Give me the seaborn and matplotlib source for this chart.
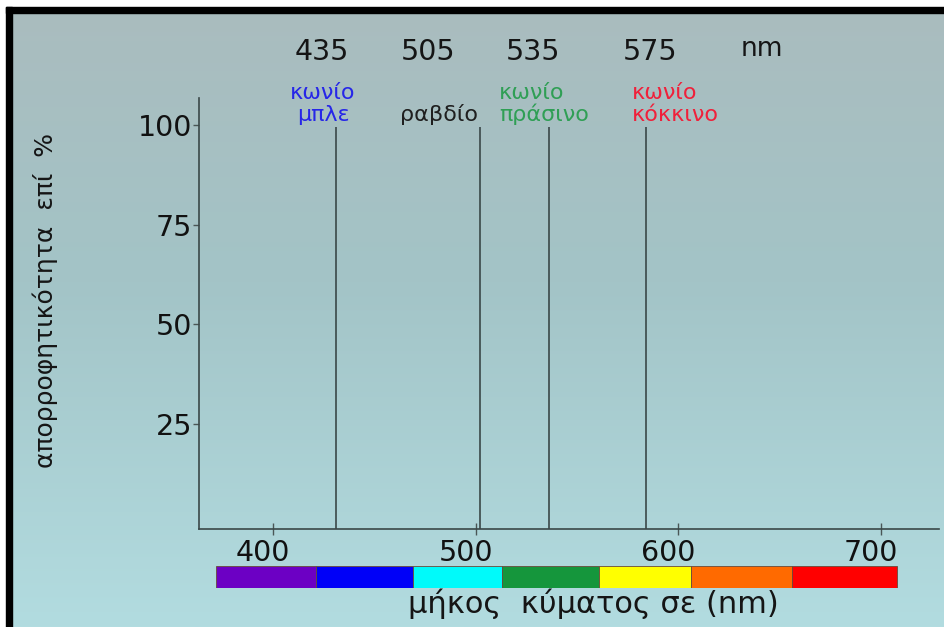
import numpy as np
import matplotlib
matplotlib.use("Agg")
import matplotlib.pyplot as plt
from matplotlib.patches import Rectangle
from matplotlib.transforms import ScaledTranslation
import seaborn as sns

# data
y_ticks = [25, 50, 75, 100]
x_ticks = [400, 500, 600, 700]
peak_labels = ["435", "505", "535", "575"]           # wavelengths written above
peak_lines = [431, 502, 536, 584]                    # where the lines are drawn
receptor_names = [["κωνίο", "μπλε"], ["ραβδίο"], ["κωνίο", "πράσινο"], ["κωνίο", "κόκκινο"]]
receptor_colors = ["#2626e8", "#1f1f1f", "#2f9f55", "#f0203a"]
spectrum_edges = [372, 421, 469, 513, 561, 606, 656, 708]
spectrum_colors = ["#6c00c4", "#0000f8", "#00fafa", "#15963c",
                   "#ffff00", "#ff6a00", "#ff0000"]

sns.set_theme(style="ticks")
plt.rcParams["font.family"] = ["DejaVu Sans"]

W, H = 944, 627
fig = plt.figure(figsize=(W / 100, H / 100), dpi=100)


def fx(x):
    return x / W


def fy(y):
    return 1 - y / H


# background gradient and black frame (top and left only)
bg = fig.add_axes([0, 0, 1, 1], zorder=-10)
stops_y = [0, 0.45, 1]
stops_c = np.array([[170, 188, 190], [163, 196, 199], [178, 220, 224]]) / 255
t = np.linspace(0, 1, 300)
grad = np.stack([np.interp(t, stops_y, stops_c[:, k]) for k in range(3)], axis=1)
bg.imshow(grad[:, None, :], aspect="auto", extent=[0, W, H, 0])
bg.add_patch(Rectangle((0, 0), W, 7, color="white"))
bg.add_patch(Rectangle((0, 0), 6, H, color="white"))
bg.add_patch(Rectangle((6, 7), W, 6, color="black"))
bg.add_patch(Rectangle((6, 7), 6, H, color="black"))
bg.set_xlim(0, W)
bg.set_ylim(H, 0)
bg.axis("off")

# main axes
ax = fig.add_axes([fx(199), 1 - 529 / H, fx(740), 431 / H])
ax.set_facecolor("none")
ax.set_xlim(363.5, 728.6)
ax.set_ylim(-1.3, 106.8)
ax.vlines(peak_lines, ax.get_ylim()[0], 99.5, color="#3a4848", lw=1.2)
ax.set_xticks(x_ticks)
ax.set_yticks(y_ticks)
ax.tick_params(axis="x", direction="inout", length=8, width=1, color="#4a5656",
               labelsize=20.5, pad=3, labelcolor="#111111")
ax.tick_params(axis="y", direction="out", length=4, width=1, color="#4a5656",
               labelsize=20.5, pad=1, labelcolor="#111111")
# the x numbers sit a little to the left of their ticks
shift = ScaledTranslation(-0.1, 0, fig.dpi_scale_trans)
for lab in ax.get_xticklabels():
    lab.set_transform(lab.get_transform() + shift)
sns.despine(ax=ax)
for s in ["left", "bottom"]:
    ax.spines[s].set_color("#3a4848")
    ax.spines[s].set_linewidth(1.2)

# spectrum bar below the axis
ax2 = fig.add_axes([fx(199), 1 - 588 / H, fx(740), 22 / H])
ax2.set_facecolor("none")
ax2.set_xlim(ax.get_xlim())
ax2.set_ylim(0, 1)
for left, right, c in zip(spectrum_edges[:-1], spectrum_edges[1:], spectrum_colors):
    ax2.barh(0.5, right - left, left=left, height=1, color=c,
             edgecolor="#6a4a3a", linewidth=0.6, align="center")
ax2.axis("off")

# wavelength labels on top
for lab, x in zip(peak_labels, [322, 428, 533, 650]):
    fig.text(fx(x), fy(60), lab, ha="center", va="baseline", fontsize=20.5, color="#151515")
fig.text(fx(762), fy(56), "nm", ha="center", va="baseline", fontsize=19, color="#151515")

# receptor names
name_pos = [(323, "center"), (439, "center"), (499, "left"), (632, "left")]
for names, col, (x, ha) in zip(receptor_names, receptor_colors, name_pos):
    rows = [99, 121] if len(names) == 2 else [121]
    for txt, yb in zip(names, rows):
        fig.text(fx(x), fy(yb), txt, ha=ha, va="baseline", fontsize=16, color=col)

# axis titles
fig.text(fx(45), fy(300), "απορροφητικότητα  επί  %", rotation=90,
         ha="center", va="center", fontsize=18, color="#151515")
fig.text(fx(593), fy(613), "μήκος  κύματος σε (nm)", ha="center", va="baseline",
         fontsize=22, color="#151515")

fig.savefig("out.png", dpi=100)
